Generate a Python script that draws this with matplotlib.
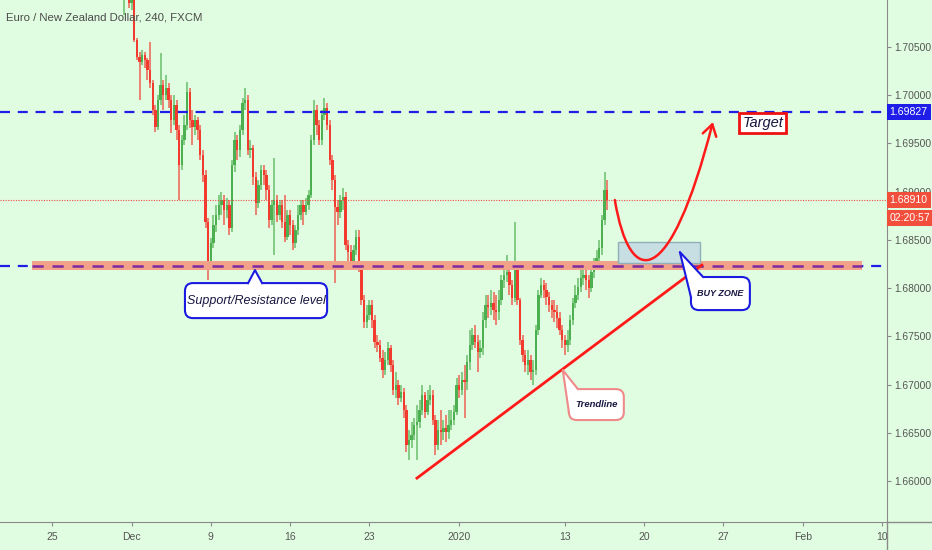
import numpy as np
import matplotlib
matplotlib.use('Agg')
import matplotlib.pyplot as plt
from matplotlib.patches import FancyBboxPatch, Polygon, Rectangle, FancyArrowPatch
from matplotlib.path import Path
from matplotlib.lines import Line2D
from matplotlib.transforms import IdentityTransform, blended_transform_factory

plt.rcParams['font.family'] = ['Liberation Sans', 'DejaVu Sans']

# ---- data: EURNZD 4h candles, bar 0 = Dec 2 00:00 ----
first_bar = -4
first_open = 1.7130
closes = np.array([
    1.7114, 1.7125, 1.7104, 1.7096, 1.7099, 1.7057, 1.7040,
    1.7034, 1.7042, 1.7037, 1.7026, 1.7013, 1.6985, 1.6967, 1.6995, 1.7011, 1.7000,
    1.7007, 1.6995, 1.6974, 1.6990, 1.6964, 1.6928, 1.6954, 1.6969, 1.7003, 1.6974,
    1.6967, 1.6974, 1.6964, 1.6938, 1.6917, 1.6869, 1.6827, 1.6847, 1.6865, 1.6876,
    1.6886, 1.6891, 1.6881, 1.6886, 1.6862, 1.6928, 1.6954, 1.6943, 1.6964, 1.6992,
    1.6995, 1.6943, 1.6945, 1.6915, 1.6888, 1.6907, 1.6922, 1.6917, 1.6902, 1.6871,
    1.6886, 1.6891, 1.6876, 1.6886, 1.6869, 1.6853, 1.6876, 1.6865, 1.6847, 1.6860,
    1.6876, 1.6886, 1.6879, 1.6886, 1.6897, 1.6954, 1.6985, 1.6969, 1.6954, 1.6979,
    1.6987, 1.6969, 1.6933, 1.6912, 1.6884, 1.6879, 1.6891, 1.6894, 1.6845, 1.6837,
    1.6827, 1.6839, 1.6853, 1.6821, 1.6788, 1.6765, 1.6772, 1.6782, 1.6767, 1.6744,
    1.6741, 1.6728, 1.6715, 1.6725, 1.6738, 1.6720, 1.6694, 1.6700, 1.6686, 1.6692,
    1.6674, 1.6637, 1.6642, 1.6648, 1.6658, 1.6661, 1.6674, 1.6689, 1.6672, 1.6684,
    1.6689, 1.6663, 1.6637, 1.6653, 1.6651, 1.6655, 1.6651, 1.6658, 1.6663, 1.6672,
    1.6700, 1.6694, 1.6705, 1.6703, 1.6723, 1.6741, 1.6751, 1.6744, 1.6734, 1.6738,
    1.6767, 1.6782, 1.6780, 1.6785, 1.6777, 1.6775, 1.6788, 1.6808, 1.6814, 1.6817,
    1.6803, 1.6790, 1.6819, 1.6788, 1.6746, 1.6731, 1.6720, 1.6725, 1.6713, 1.6715,
    1.6757, 1.6793, 1.6803, 1.6798, 1.6791, 1.6782, 1.6777, 1.6775, 1.6769, 1.6757,
    1.6746, 1.6741, 1.6746, 1.6767, 1.6785, 1.6793, 1.6801, 1.6810, 1.6814, 1.6808,
    1.6800, 1.6817, 1.6824, 1.6831, 1.6842, 1.6871, 1.6902, 1.6891,
])
highs = np.array([
    1.7135, 1.7130, 1.7128, 1.7107, 1.7102, 1.7102, 1.7059,
    1.7045, 1.7047, 1.7045, 1.7039, 1.7055, 1.7016, 1.6990, 1.7000, 1.7044, 1.7016,
    1.7021, 1.7013, 1.7000, 1.7000, 1.6995, 1.6969, 1.6959, 1.6979, 1.7014, 1.7007,
    1.6985, 1.6979, 1.6977, 1.6969, 1.6943, 1.6922, 1.6873, 1.6852, 1.6876, 1.6886,
    1.6897, 1.6900, 1.6897, 1.6893, 1.6891, 1.6933, 1.6962, 1.6959, 1.6969, 1.6997,
    1.7007, 1.7000, 1.6954, 1.6948, 1.6920, 1.6912, 1.6928, 1.6928, 1.6922, 1.6907,
    1.6891, 1.6935, 1.6897, 1.6891, 1.6891, 1.6897, 1.6881, 1.6881, 1.6871, 1.6865,
    1.6886, 1.6891, 1.6891, 1.6893, 1.6902, 1.6959, 1.6995, 1.6990, 1.6974, 1.6985,
    1.6997, 1.6992, 1.6974, 1.6938, 1.6917, 1.6891, 1.6897, 1.6904, 1.6900, 1.6850,
    1.6845, 1.6845, 1.6860, 1.6860, 1.6824, 1.6793, 1.6782, 1.6788, 1.6788, 1.6772,
    1.6751, 1.6746, 1.6736, 1.6734, 1.6744, 1.6741, 1.6725, 1.6713, 1.6705, 1.6700,
    1.6696, 1.6679, 1.6653, 1.6661, 1.6665, 1.6679, 1.6684, 1.6700, 1.6692, 1.6694,
    1.6700, 1.6694, 1.6668, 1.6663, 1.6674, 1.6663, 1.6668, 1.6674, 1.6674, 1.6679,
    1.6707, 1.6710, 1.6713, 1.6720, 1.6731, 1.6757, 1.6759, 1.6762, 1.6751, 1.6746,
    1.6775, 1.6793, 1.6793, 1.6798, 1.6796, 1.6793, 1.6798, 1.6814, 1.6824, 1.6834,
    1.6827, 1.6808, 1.6869, 1.6824, 1.6790, 1.6751, 1.6736, 1.6736, 1.6731, 1.6725,
    1.6762, 1.6798, 1.6810, 1.6808, 1.6805, 1.6796, 1.6788, 1.6788, 1.6782, 1.6775,
    1.6762, 1.6751, 1.6757, 1.6772, 1.6790, 1.6803, 1.6810, 1.6819, 1.6821, 1.6819,
    1.6814, 1.6824, 1.6831, 1.6839, 1.6850, 1.6876, 1.6920, 1.6912,
])
lows = np.array([
    1.7109, 1.7083, 1.7099, 1.7090, 1.7088, 1.7055, 1.7037,
    1.6995, 1.7031, 1.7028, 1.7016, 1.7007, 1.6979, 1.6962, 1.6964, 1.6990, 1.6985,
    1.6995, 1.6987, 1.6961, 1.6969, 1.6954, 1.6891, 1.6922, 1.6948, 1.6964, 1.6966,
    1.6948, 1.6959, 1.6954, 1.6933, 1.6910, 1.6862, 1.6808, 1.6821, 1.6842, 1.6858,
    1.6871, 1.6876, 1.6865, 1.6873, 1.6855, 1.6858, 1.6920, 1.6933, 1.6936, 1.6959,
    1.6985, 1.6938, 1.6935, 1.6907, 1.6876, 1.6883, 1.6902, 1.6907, 1.6891, 1.6862,
    1.6865, 1.6834, 1.6869, 1.6871, 1.6862, 1.6848, 1.6850, 1.6855, 1.6839, 1.6842,
    1.6855, 1.6871, 1.6865, 1.6876, 1.6881, 1.6893, 1.6948, 1.6959, 1.6948, 1.6948,
    1.6974, 1.6964, 1.6928, 1.6902, 1.6805, 1.6865, 1.6873, 1.6881, 1.6839, 1.6827,
    1.6821, 1.6822, 1.6834, 1.6817, 1.6782, 1.6759, 1.6759, 1.6767, 1.6759, 1.6738,
    1.6734, 1.6723, 1.6707, 1.6710, 1.6720, 1.6713, 1.6689, 1.6686, 1.6679, 1.6682,
    1.6665, 1.6630, 1.6622, 1.6634, 1.6642, 1.6622, 1.6655, 1.6668, 1.6665, 1.6668,
    1.6679, 1.6658, 1.6627, 1.6632, 1.6637, 1.6642, 1.6640, 1.6644, 1.6653, 1.6658,
    1.6668, 1.6686, 1.6689, 1.6665, 1.6694, 1.6715, 1.6736, 1.6738, 1.6713, 1.6728,
    1.6731, 1.6759, 1.6769, 1.6772, 1.6767, 1.6762, 1.6767, 1.6782, 1.6800, 1.6806,
    1.6793, 1.6782, 1.6786, 1.6782, 1.6741, 1.6723, 1.6713, 1.6710, 1.6705, 1.6700,
    1.6710, 1.6751, 1.6790, 1.6790, 1.6782, 1.6775, 1.6769, 1.6765, 1.6759, 1.6751,
    1.6738, 1.6731, 1.6734, 1.6741, 1.6762, 1.6779, 1.6788, 1.6796, 1.6803, 1.6798,
    1.6790, 1.6796, 1.6810, 1.6821, 1.6827, 1.6834, 1.6865, 1.6881,
])

date_ticks = [-30, 0, 30, 60, 90, 124, 164, 194, 224, 254, 284]
date_labels = ['25', 'Dec', '9', '16', '23', '2020', '13', '20', '27', 'Feb', '10']
price_ticks = [1.660, 1.665, 1.670, 1.675, 1.680, 1.685, 1.690, 1.695, 1.700, 1.705]

target = 1.69827
support = 1.6823
last_price = 1.68910
countdown = '02:20:57'
title = 'Euro / New Zealand Dollar, 240, FXCM'

BG = '#e1fde1'
UP = '#4caf50'
DOWN = '#f23b2e'
BLUE = '#1e1ee8'
RED = '#ff1a1a'
NAVY = '#161640'

fig = plt.figure(figsize=(9.32, 5.5), dpi=100, facecolor=BG)
ax = fig.add_axes([0, 28 / 550, 887 / 932, 522 / 550])
ax.set_facecolor(BG)
ax.set_xlim(-49.8, 285.9)
ax.set_ylim(1.65575, 1.70987)

# candles
idx = np.arange(first_bar, first_bar + len(closes))
opens = np.r_[first_open, closes[:-1]]
colors = np.where(closes >= opens, UP, DOWN)
ax.vlines(idx, lows, highs, colors=colors, lw=1.1, alpha=0.8, zorder=3)
ax.bar(idx, np.maximum(np.abs(closes - opens), 0.00004), bottom=np.minimum(opens, closes),
       width=0.9, color=colors, linewidth=0, zorder=3.1)

# horizontal levels
ax.axhline(target, color=BLUE, lw=1.6, dashes=(4.5, 3.5), zorder=4)
ax.axhline(support, color=BLUE, lw=1.6, dashes=(4.5, 3.5), zorder=4)
ax.add_patch(Rectangle((-37.6, support - 0.00046), 314, 0.00093, fc='#f2a288', ec='none', zorder=4.5))
ax.plot([-37.6, 276.4], [support, support], color='#7b2aa0', lw=1.8, dashes=(4.5, 3.5), zorder=5)
ax.axhline(last_price, color='#f04848', lw=0.8, ls=(0, (1, 1.3)), zorder=4)

# buy zone + trendline + projected path
ax.add_patch(Rectangle((184.1, 1.68260), 31, 0.00217, fc='#c7dee2', ec='#8fb0b8', lw=1, zorder=6))
ax.plot([108.0, 215.8], [1.66030, 1.68239], color=RED, lw=2, zorder=6.5)
curve = Path([(182.9, 1.68913), (188.6, 1.67980), (203.7, 1.67980), (220.0, 1.69722)],
             [Path.MOVETO, Path.CURVE4, Path.CURVE4, Path.CURVE4])
ax.add_patch(FancyArrowPatch(path=curve, arrowstyle='->,head_length=0.4,head_width=0.25',
                             mutation_scale=20, color=RED, lw=1.8, zorder=7))

ax.text(238.9, 1.69712, 'Target', fontsize=10.5, style='italic', color=NAVY, ha='center', va='center',
        bbox=dict(boxstyle='square,pad=0.2', fc='white', ec='#ee1111', lw=2), zorder=8)


def callout(box, apex, bases, edge, label, **kw):
    (x0, y0), (x1, y1) = box
    p0 = ax.transData.transform((x0, y0))
    p1 = ax.transData.transform((x1, y1))
    lo = np.minimum(p0, p1)
    w, h = np.abs(p1 - p0)
    ax.add_patch(FancyBboxPatch(lo, w, h, boxstyle='round,pad=0,rounding_size=8',
                                transform=IdentityTransform(), fc='white', ec=edge, lw=1.5, zorder=8))
    cx, cy = (x0 + x1) / 2, (y0 + y1) / 2
    inner = [(bx + 0.15 * (cx - bx), by + 0.15 * (cy - by)) for bx, by in bases]
    ax.add_patch(Polygon([bases[0], apex, bases[1], inner[1], inner[0]], fc='white', ec='none', zorder=9))
    ax.plot([bases[0][0], apex[0], bases[1][0]], [bases[0][1], apex[1], bases[1][1]],
            color=edge, lw=1.5, zorder=10)
    ax.text(cx, cy, label, ha='center', va='center', color=NAVY, zorder=11, **kw)


callout(((20.2, 1.68052), (74.0, 1.67689)), (46.7, 1.68187), [(44.1, 1.68052), (49.4, 1.68052)],
        '#1a1ae0', 'Support/Resistance level', fontsize=9, style='italic')
callout(((211.7, 1.68115), (234.0, 1.67772)), (207.5, 1.68374), [(211.7, 1.67907), (216.3, 1.68115)],
        '#1a1ae0', 'BUY ZONE', fontsize=6.5, style='italic', weight='bold')
callout(((165.5, 1.66953), (186.3, 1.66632)), (163.2, 1.67150), [(165.5, 1.66715), (168.9, 1.66953)],
        '#f08a8a', 'Trendline', fontsize=6.8, style='italic', weight='bold')

# axes styling
for s in ['top', 'left']:
    ax.spines[s].set_visible(False)
for s in ['right', 'bottom']:
    ax.spines[s].set_color('#8a8a8a')
ax.yaxis.tick_right()
ax.set_yticks(price_ticks)
ax.set_yticklabels(['%.5f' % v for v in price_ticks])
ax.set_xticks(date_ticks)
ax.set_xticklabels(date_labels)
ax.tick_params(axis='y', colors='#8a8a8a', labelcolor='#555555', labelsize=7.4, length=3, pad=2.5)
ax.tick_params(axis='x', colors='#8a8a8a', labelcolor='#555555', labelsize=7.5, length=3, pad=4)
fig.add_artist(Line2D([887 / 932, 887 / 932], [0, 28 / 550], color='#8a8a8a', lw=1, transform=fig.transFigure))
fig.add_artist(Line2D([887 / 932, 1], [28 / 550, 28 / 550], color='#8a8a8a', lw=1, transform=fig.transFigure))

# price scale labels
tr = blended_transform_factory(ax.transAxes, ax.transData)
for val, txt, col in [(target, '%.5f' % target, BLUE), (last_price, '%.5f' % last_price, '#f24e3c'),
                      (1.68726, countdown, '#f24e3c')]:
    ax.text(1.003, val, txt, transform=tr, ha='left', va='center', fontsize=7.6, color='white',
            bbox=dict(boxstyle='square,pad=0.28', fc=col, ec='none'), clip_on=False, zorder=12)

fig.text(6 / 932, 1 - 17 / 550, title, fontsize=8.2, color='#4a4a4a', va='center')

fig.savefig('out.png', dpi=100, facecolor=BG)
